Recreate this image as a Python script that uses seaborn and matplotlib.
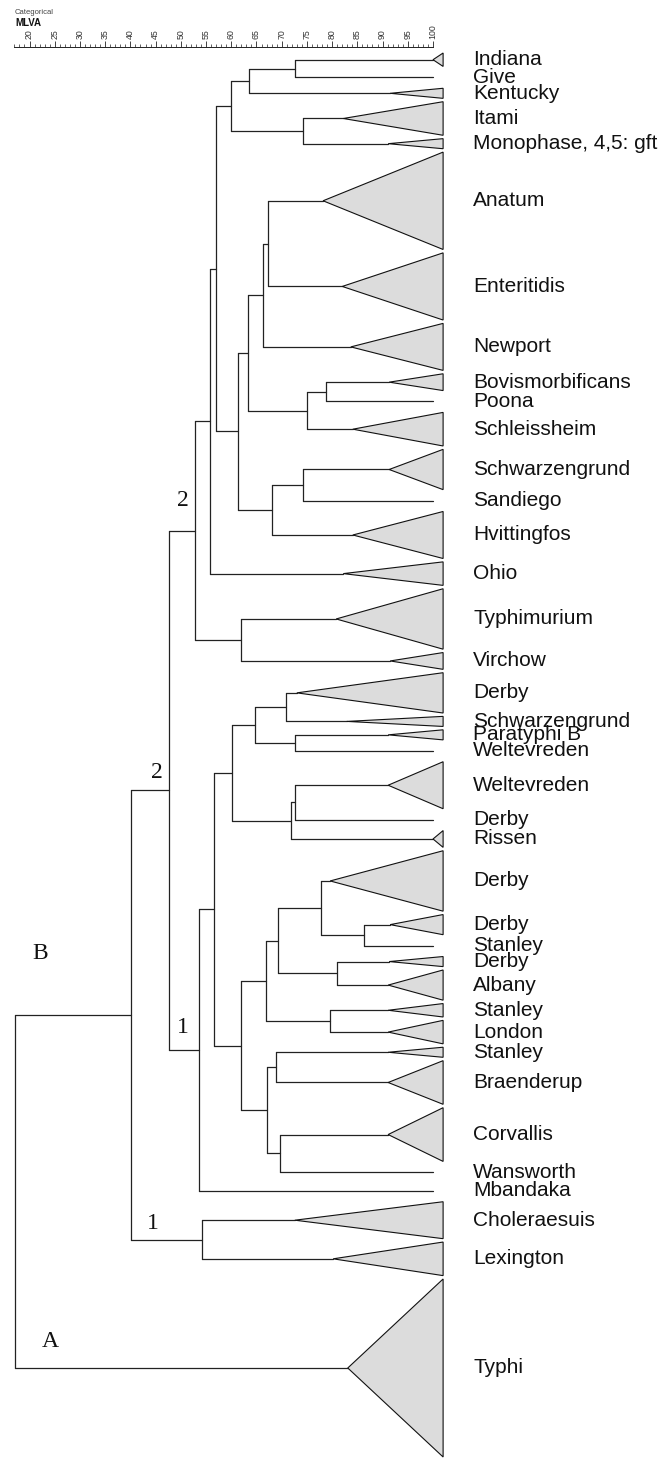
import numpy as np
import pandas as pd
import matplotlib
matplotlib.use("Agg")
import matplotlib.pyplot as plt
import seaborn as sns

# ---------------- data ----------------
leaf_names = ["Indiana", "Give", "Kentucky", "Itami", "Monophase, 4,5: gft",
              "Anatum", "Enteritidis", "Newport", "Bovismorbificans", "Poona",
              "Schleissheim", "Schwarzengrund", "Sandiego", "Hvittingfos", "Ohio",
              "Typhimurium", "Virchow", "Derby", "Schwarzengrund", "Paratyphi B",
              "Weltevreden", "Weltevreden", "Derby", "Rissen", "Derby", "Derby",
              "Stanley", "Derby", "Albany", "Stanley", "London", "Stanley",
              "Braenderup", "Corvallis", "Wansworth", "Mbandaka", "Choleraesuis",
              "Lexington", "Typhi"]
leaf_counts = [4, 1, 3, 10, 3, 29, 20, 14, 5, 1, 10, 12, 1, 14, 7, 18, 5, 12, 3, 3,
               1, 14, 1, 5, 18, 6, 1, 3, 9, 4, 7, 3, 13, 16, 1, 1, 11, 10, 53]
leaf_tip_similarity = [100, 100, 91.5, 82.2, 91.1, 78.2, 82.0, 83.7, 91.3, 100,
                       84.1, 91.3, 100, 84.1, 82.2, 80.8, 91.5, 73.0, 82.9, 91.1,
                       100, 91.1, 100, 100, 79.6, 91.5, 100, 91.3, 91.1, 91.1,
                       91.1, 91.1, 91.1, 91.1, 100, 100, 72.6, 80.2, 83.1]
# merges: node id = 39 + index
merge_left = [0, 39, 3, 40, 5, 43, 8, 45, 44, 11, 48, 47, 42, 51, 15, 52, 17, 19, 55,
              21, 58, 57, 25, 24, 27, 62, 29, 64, 31, 33, 67, 66, 60, 71, 54, 36, 73, 75]
merge_right = [1, 2, 4, 41, 6, 7, 9, 10, 46, 12, 13, 49, 50, 14, 16, 53, 18, 20, 56,
               22, 23, 59, 26, 61, 28, 63, 30, 65, 32, 34, 68, 69, 70, 35, 72, 37, 74, 38]
merge_similarity = [72.6, 63.5, 74.2, 60.0, 67.3, 66.3, 78.8, 75.0, 63.3, 74.2, 68.1,
                    61.3, 57.0, 55.8, 61.9, 52.8, 70.9, 72.6, 64.7, 72.6, 71.8, 60.2,
                    86.3, 77.8, 81.0, 69.3, 79.6, 66.9, 68.9, 69.7, 67.1, 61.9, 56.6,
                    53.6, 47.7, 54.2, 40.1, 17.1]
cluster_labels = {54: "2", 73: "2", 72: "1", 74: "1", 75: "B", 38: "A"}
axis_ticks = list(range(20, 101, 5))

# ---------------- layout constants ----------------
SINGLE_H = 4.5
GAP = 1.0
TRI_BASE = 102.0
PX_TOP, PX_BOT, PX_AX = 53, 1457, 47
W, H = 665, 1459

heights = [c if c > 1 else SINGLE_H for c in leaf_counts]
tops = []
y = 0.0
for h in heights:
    tops.append(y)
    y += h + GAP
T = y - GAP
scale = (PX_BOT - PX_TOP) / T

node_x = {}
node_y = {}
for i in range(len(leaf_names)):
    node_x[i] = leaf_tip_similarity[i]
    node_y[i] = tops[i] + heights[i] / 2
n0 = len(leaf_names)
segs = []
sid = 0
for k, (a, b, s) in enumerate(zip(merge_left, merge_right, merge_similarity)):
    nid = n0 + k
    node_x[nid] = s
    node_y[nid] = (node_y[a] + node_y[b]) / 2
    for (x0, y0, x1, y1) in [(s, node_y[a], s, node_y[b]),
                             (s, node_y[a], node_x[a], node_y[a]),
                             (s, node_y[b], node_x[b], node_y[b])]:
        segs.append({"seg": sid, "x": x0, "y": y0})
        segs.append({"seg": sid, "x": x1, "y": y1})
        sid += 1
df = pd.DataFrame(segs)

# ---------------- plot ----------------
sns.set_theme(style="white")
plt.rcParams["font.family"] = ["Liberation Sans", "DejaVu Sans"]

fig = plt.figure(figsize=(W / 100, H / 100), dpi=100)
ax = fig.add_axes([0, 0, 1, 1 - PX_AX / H])

sns.lineplot(data=df, x="x", y="y", units="seg", estimator=None, sort=False,
             color="#222222", linewidth=0.9, ax=ax, legend=False)

for i, name in enumerate(leaf_names):
    if leaf_counts[i] > 1:
        tri = np.array([[leaf_tip_similarity[i], node_y[i]],
                        [TRI_BASE, tops[i]],
                        [TRI_BASE, tops[i] + heights[i]]])
        ax.fill(tri[:, 0], tri[:, 1], facecolor="#dcdcdc", edgecolor="#111111",
                linewidth=0.8, zorder=3)
    ax.text(108, node_y[i], name, fontsize=15, va="center", ha="left",
            color="#111111", clip_on=False)

label_offsets = {54: (14, -30), 73: (26, -18), 72: (14, -23), 74: (22, -16),
                 75: (25, -61), 38: (35, -26)}
parent_of = {}
for k, (a, b) in enumerate(zip(merge_left, merge_right)):
    parent_of[a] = n0 + k
    parent_of[b] = n0 + k
for nid, lab in cluster_labels.items():
    px_ = node_x[parent_of[nid]]
    dx, dy = label_offsets[nid]
    ax.annotate(lab, xy=(px_, node_y[nid]), xytext=(dx * 0.72, -dy * 0.72),
                textcoords="offset points", ha="center", va="center",
                fontsize=17, family="Liberation Serif", color="#111111")

# x scale: v -> px = 29.5 + (v-20)*5.044
k_px = 5.044
x0 = 20 - 29.5 / k_px
x1 = 20 + (W - 29.5) / k_px
ax.set_xlim(x0, x1)
ax.set_ylim(T + (H - PX_BOT) / scale, -(PX_TOP - PX_AX) / scale)

ax.xaxis.tick_top()
ax.set_xticks(axis_ticks)
ax.set_xticklabels([str(t) for t in axis_ticks], rotation=90, fontsize=6.3,
                   color="#333333")
ax.set_xticks(list(range(17, 101)), minor=True)
ax.tick_params(axis="x", which="major", length=4.5, width=0.6, pad=1,
               color="#222222", top=True, bottom=False)
ax.tick_params(axis="x", which="minor", length=2, width=0.5, color="#222222",
               top=True, bottom=False)
ax.set_yticks([])
ax.set_xlabel("")
ax.set_ylabel("")
for sp in ["left", "right", "bottom"]:
    ax.spines[sp].set_visible(False)
ax.spines["top"].set_bounds(17, 100)
ax.spines["top"].set_linewidth(0.7)
ax.spines["top"].set_color("#222222")
ax.patch.set_alpha(0)

fig.text(15 / W, 1 - 12 / H, "Categorical", fontsize=5.5, color="#444444",
         va="center", ha="left")
fig.text(15 / W, 1 - 23 / H, "MLVA", fontsize=7, fontweight="bold",
         color="#111111", va="center", ha="left")

fig.savefig("out.png", dpi=100)
